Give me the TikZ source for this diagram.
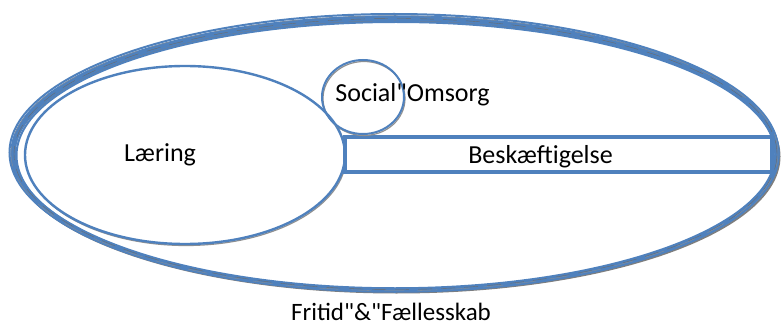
\documentclass[tikz,border=0pt]{standalone}
\usepackage{fontspec}
\setmainfont{Carlito}[Ligatures=TeXOff]
\definecolor{sblue}{RGB}{79,129,189}
\definecolor{shade}{RGB}{70,70,70}
\begin{document}
\begin{tikzpicture}[x=1pt,y=1pt,
  lbl/.style={font=\fontsize{26}{30}\selectfont, text=black, anchor=base, inner sep=0pt},
  thinblue/.style={draw=sblue, line width=2.4pt},
  shadow/.style={draw=shade!60, line width=1.2pt}]
\useasboundingbox (0,0) rectangle (781,327);
% outer sketchy ellipse (Fritid & Faellesskab)
\coordinate (oc) at (395,173);
\draw[draw=shade!70, line width=2pt] ([xshift=1.5pt,yshift=-2.5pt]oc) ellipse [x radius=383, y radius=136];
\draw[draw=sblue, line width=5.5pt] (oc) ellipse [x radius=382, y radius=136];
\draw[draw=sblue, line width=2pt] ([xshift=-1pt,yshift=1.5pt]oc) ellipse [x radius=384.5, y radius=138.5];
\draw[draw=sblue, line width=2pt] ([xshift=1pt,yshift=-1.5pt]oc) ellipse [x radius=379.5, y radius=133.5];
\draw[draw=shade!80, line width=0.4pt, dash pattern=on 14pt off 9pt] ([xshift=0.5pt]oc) ellipse [x radius=381.5, y radius=135.5];
\draw[draw=shade!60, line width=0.3pt, dash pattern=on 20pt off 13pt] ([xshift=-0.5pt,yshift=0.8pt]oc) ellipse [x radius=383.5, y radius=137.5];
% Laering ellipse
\coordinate (lc) at (185,172);
\draw[shadow] ([xshift=1pt,yshift=-1.5pt]lc) ellipse [x radius=160, y radius=89];
\draw[thinblue, fill=white] (lc) ellipse [x radius=160, y radius=89];
\node[lbl] (laering) at (160,165) {Læring};
% Beskaeftigelse rectangle
\draw[shadow] (346,153.5) rectangle (773,188.5);
\draw[draw=sblue, line width=3.4pt, fill=white] (345,155) rectangle (772,190);
\node[lbl] (besk) at (540.5,164) {Beskæftigelse};
% Social Omsorg circle
\draw[shadow] (364,228.5) ellipse [x radius=41, y radius=37];
\draw[thinblue, line width=2pt] (363,230) ellipse [x radius=41, y radius=37];
\node[lbl] (social) at (412.5,225) {Social"Omsorg};
% bottom label
\node[lbl, font=\fontsize{25}{30}\selectfont] (fritid) at (391,7) {Fritid"\&"Fællesskab};
\end{tikzpicture}
\end{document}
